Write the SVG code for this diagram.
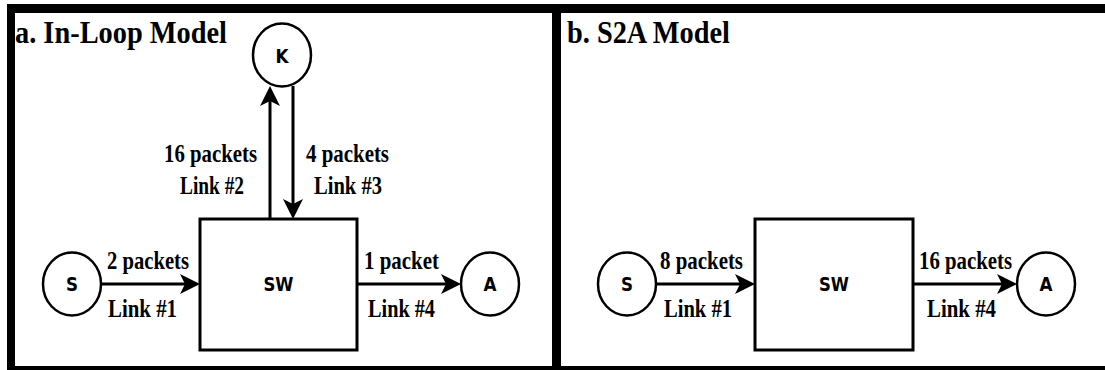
<svg xmlns="http://www.w3.org/2000/svg" width="1105" height="370" viewBox="0 0 1105 370">
  <style>
    .frame { fill: #000; }
    .node { fill: #fff; stroke: #000; stroke-width: 2.5; }
    .box { fill: #fff; stroke: #000; stroke-width: 3; }
    .link { fill: none; stroke: #000; stroke-width: 3; }
    .nlabel { font-family: "DejaVu Sans", sans-serif; font-weight: bold; font-size: 20px; fill: #000; text-anchor: middle; }
    .lbl { font-family: "Liberation Serif", serif; font-weight: bold; font-size: 25px; fill: #000; }
    .title { font-family: "Liberation Serif", serif; font-weight: bold; font-size: 31px; fill: #000; }
  </style>
  <defs>
    <marker id="arrow" viewBox="0 0 20 20" refX="8" refY="10" markerWidth="20" markerHeight="20" markerUnits="userSpaceOnUse" orient="auto">
      <path d="M20,10 L0,0 L5,10 L0,20 Z" fill="#000"/>
    </marker>
  </defs>
  <rect width="1105" height="370" fill="#fff"/>

  <!-- outer frame and panel divider -->
  <g id="frame">
    <rect class="frame" x="7" y="4" width="1098" height="9"/>
    <rect class="frame" x="7" y="4" width="8" height="366"/>
    <rect class="frame" x="552" y="4" width="9" height="366"/>
    <rect class="frame" x="7" y="366" width="1098" height="4"/>
  </g>

  <!-- panel titles -->
  <text class="title" x="15" y="43" textLength="212" lengthAdjust="spacingAndGlyphs">a. In-Loop Model</text>
  <text class="title" x="567" y="43" textLength="163" lengthAdjust="spacingAndGlyphs">b. S2A Model</text>

  <!-- connectors -->
  <g id="connectors">
    <!-- panel a -->
    <line class="link" x1="101" y1="284" x2="188" y2="284" marker-end="url(#arrow)"/>
    <line class="link" x1="357" y1="284" x2="449" y2="284" marker-end="url(#arrow)"/>
    <line class="link" x1="270" y1="219" x2="270" y2="98" marker-end="url(#arrow)"/>
    <line class="link" x1="293" y1="86" x2="293" y2="207" marker-end="url(#arrow)"/>
    <!-- panel b -->
    <line class="link" x1="656" y1="284" x2="743" y2="284" marker-end="url(#arrow)"/>
    <line class="link" x1="913" y1="284" x2="1005" y2="284" marker-end="url(#arrow)"/>
  </g>

  <!-- link labels -->
  <g id="labels">
    <text class="lbl" x="164" y="162" textLength="93" lengthAdjust="spacingAndGlyphs">16 packets</text>
    <text class="lbl" x="180" y="194" textLength="64" lengthAdjust="spacingAndGlyphs">Link #2</text>
    <text class="lbl" x="306" y="162" textLength="83" lengthAdjust="spacingAndGlyphs">4 packets</text>
    <text class="lbl" x="314" y="194" textLength="68" lengthAdjust="spacingAndGlyphs">Link #3</text>
    <text class="lbl" x="107" y="269" textLength="82" lengthAdjust="spacingAndGlyphs">2 packets</text>
    <text class="lbl" x="108" y="317" textLength="69" lengthAdjust="spacingAndGlyphs">Link #1</text>
    <text class="lbl" x="364" y="269" textLength="75" lengthAdjust="spacingAndGlyphs">1 packet</text>
    <text class="lbl" x="368" y="317" textLength="67" lengthAdjust="spacingAndGlyphs">Link #4</text>
    <text class="lbl" x="660" y="269" textLength="83" lengthAdjust="spacingAndGlyphs">8 packets</text>
    <text class="lbl" x="664" y="317" textLength="68" lengthAdjust="spacingAndGlyphs">Link #1</text>
    <text class="lbl" x="919" y="269" textLength="93" lengthAdjust="spacingAndGlyphs">16 packets</text>
    <text class="lbl" x="927" y="317" textLength="69" lengthAdjust="spacingAndGlyphs">Link #4</text>
  </g>

  <!-- panel a nodes -->
  <g id="a-K">
    <ellipse class="node" cx="282" cy="55" rx="29" ry="31.5"/>
    <text class="nlabel" x="282" y="63" textLength="13" lengthAdjust="spacingAndGlyphs">K</text>
  </g>
  <g id="a-S">
    <ellipse class="node" cx="72" cy="284" rx="29" ry="31.5"/>
    <text class="nlabel" x="72" y="291" textLength="12" lengthAdjust="spacingAndGlyphs">S</text>
  </g>
  <g id="a-SW">
    <rect class="box" x="200" y="219" width="157" height="131"/>
    <text class="nlabel" x="278.5" y="291" textLength="30" lengthAdjust="spacingAndGlyphs">SW</text>
  </g>
  <g id="a-A">
    <ellipse class="node" cx="490" cy="284" rx="29" ry="31.5"/>
    <text class="nlabel" x="490" y="291" textLength="13" lengthAdjust="spacingAndGlyphs">A</text>
  </g>

  <!-- panel b nodes -->
  <g id="b-S">
    <ellipse class="node" cx="627" cy="284" rx="29" ry="31.5"/>
    <text class="nlabel" x="627" y="291" textLength="12" lengthAdjust="spacingAndGlyphs">S</text>
  </g>
  <g id="b-SW">
    <rect class="box" x="755" y="219" width="158" height="131"/>
    <text class="nlabel" x="834" y="291" textLength="30" lengthAdjust="spacingAndGlyphs">SW</text>
  </g>
  <g id="b-A">
    <ellipse class="node" cx="1046" cy="284" rx="29" ry="31.5"/>
    <text class="nlabel" x="1046" y="291" textLength="13" lengthAdjust="spacingAndGlyphs">A</text>
  </g>
</svg>
